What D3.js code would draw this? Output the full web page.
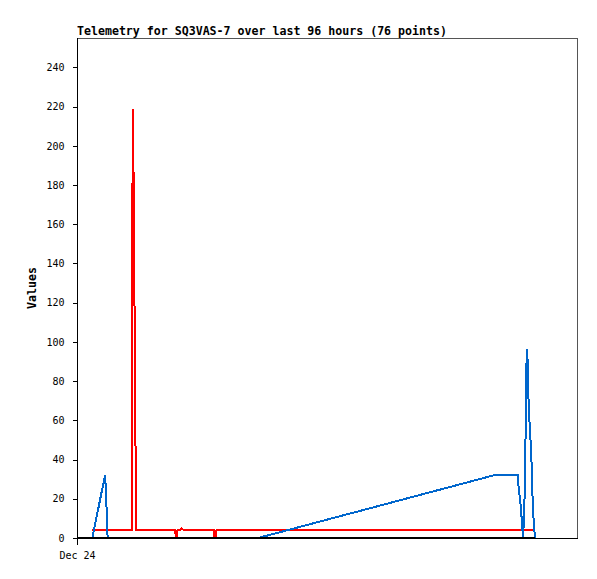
<!DOCTYPE html>
<html>
<head>
<meta charset="utf-8">
<script src="https://cdn.jsdelivr.net/npm/d3@7"></script>
<style>
  html, body { margin: 0; padding: 0; background: #fff; }
  svg { display: block; }
</style>
</head>
<body>
<svg id="chart" width="597" height="579"></svg>
<script>
// ---- data (hours after Dec 24 00:00) ----
const startDate = new Date(2023, 11, 24, 0, 0);
const endDate = new Date(2023, 11, 28, 0, 0);
const hours = [0, 2.94, 5.38, 5.57, 5.76, 5.88, 10.56, 10.68, 10.87, 11.06, 11.25, 11.40,
  18.87, 18.97, 19.20, 19.30, 19.87, 20.06, 20.54, 26.30, 26.42, 26.65, 26.78,
  34.75, 80.06, 84.61, 84.75, 85.00, 85.25, 85.44, 85.63, 85.88, 86.15, 86.34,
  86.53, 86.73, 86.98, 87.23, 87.49, 87.74, 87.94];
const redValues = [null, 4, 4, 4, 4, 4, 4, 219, 183, 112, 40, 4,
  4, 0, 0, 4, 4, 5, 4, 4, 0, 0, 4,
  4, 4, 4, 4, 4, 4, 4, 4, 4, 4, 4,
  4, 4, 4, 4, 4, null, null];
const blueValues = [null, 0, 32, 23.5, 8, 0, 0, 0, 0, 0, 0, 0,
  0, 0, 0, 0, 0, 0, 0, 0, 0, 0, 0,
  0, 32, 32, 27, 21, 15, 7, 0, 13, 56, 96.5,
  90, 66, 55, 42, 18.5, 6, 0];
const blackValues = hours.map(() => 0);
const yTicks = [0, 20, 40, 60, 80, 100, 120, 140, 160, 180, 200, 220, 240];
const xTickLabels = ["Dec 24"];
const titleText = "Telemetry for SQ3VAS-7 over last 96 hours (76 points)";
const yLabel = "Values";

// ---- layout ----
const svg = d3.select("#chart");
const pLeft = 77, pRight = 577, pTop = 38, pBottom = 538;
const x = d3.scaleTime().domain([startDate, endDate]).range([pLeft, pRight]);
const y = d3.scaleLinear().domain([0, 255]).range([pBottom, pTop]);
const times = hours.map(h => new Date(startDate.getTime() + h * 3600000));

const mono = "'DejaVu Sans Mono', 'Liberation Mono', monospace";

// frame (top/right)
svg.append("path")
  .attr("d", `M${pLeft},${pTop + 0.5}H${pRight + 0.5}V${pBottom}`)
  .attr("fill", "none").attr("stroke", "#555").attr("stroke-width", 1)
  .attr("shape-rendering", "crispEdges");

// series
function series(vals, color) {
  const line = d3.line()
    .defined((d, i) => vals[i] !== null)
    .x((d, i) => x(times[i]))
    .y((d, i) => y(vals[i]));
  svg.append("path")
    .attr("d", line(vals))
    .attr("fill", "none").attr("stroke", color).attr("stroke-width", 2)
    .attr("stroke-linejoin", "miter")
    .attr("shape-rendering", "crispEdges");
}
series(redValues, "#ff0000");
series(blueValues, "#0066cc");
series(blackValues, "#000000");

// y axis
const yAxis = d3.axisLeft(y).tickValues(yTicks).tickSize(5).tickSizeOuter(0).tickPadding(8);
const gy = svg.append("g").attr("transform", `translate(${pLeft + 0.5},0)`).call(yAxis);
gy.select(".domain").remove();
gy.selectAll(".tick line").attr("stroke", "#000").attr("shape-rendering", "crispEdges");
gy.selectAll(".tick text").attr("font-family", mono).attr("font-size", 10).attr("fill", "#000");

// left axis line
svg.append("line").attr("x1", pLeft + 0.5).attr("x2", pLeft + 0.5).attr("y1", pTop).attr("y2", pBottom + 7)
  .attr("stroke", "#000").attr("shape-rendering", "crispEdges");
// bottom axis line
svg.append("line").attr("x1", pLeft).attr("x2", pRight + 1).attr("y1", pBottom + 0.5).attr("y2", pBottom + 0.5)
  .attr("stroke", "#000").attr("shape-rendering", "crispEdges");

// x axis label
const xAxis = d3.axisBottom(x).tickValues([startDate]).tickFormat((d, i) => xTickLabels[i]).tickSize(0).tickPadding(14);
const gx = svg.append("g").attr("transform", `translate(0,${pBottom})`).call(xAxis);
gx.select(".domain").remove();
gx.selectAll(".tick text").attr("font-family", mono).attr("font-size", 10).attr("fill", "#000");

// title
svg.append("text").attr("x", pLeft).attr("y", 35)
  .attr("font-family", mono).attr("font-weight", "bold").attr("font-size", 11.6)
  .attr("fill", "#000").text(titleText);

// y label
svg.append("text")
  .attr("transform", `translate(36,${(pTop + pBottom) / 2}) rotate(-90)`)
  .attr("text-anchor", "middle")
  .attr("font-family", mono).attr("font-weight", "bold").attr("font-size", 11.6)
  .attr("fill", "#000").text(yLabel);
</script>
</body>
</html>
